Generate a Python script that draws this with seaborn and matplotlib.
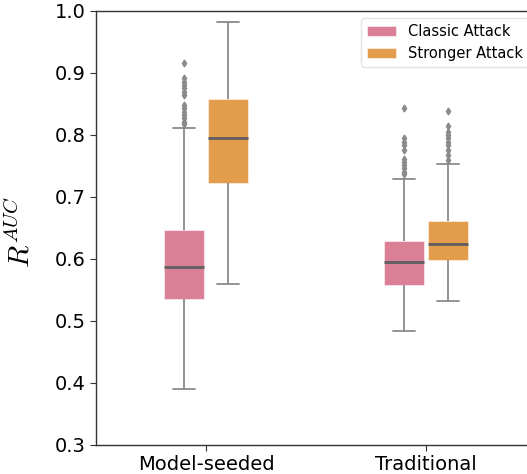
import numpy as np
import pandas as pd
import matplotlib
matplotlib.use("Agg")
import matplotlib.pyplot as plt
import seaborn as sns

# ---- data ----
categories = ["Model-seeded", "Traditional"]
attacks = ["Classic Attack", "Stronger Attack"]

# box statistics per (category, attack)
whisker_lo = {("Model-seeded", "Classic Attack"): 0.390, ("Model-seeded", "Stronger Attack"): 0.560,
              ("Traditional", "Classic Attack"): 0.484, ("Traditional", "Stronger Attack"): 0.532}
q1 = {("Model-seeded", "Classic Attack"): 0.536, ("Model-seeded", "Stronger Attack"): 0.723,
      ("Traditional", "Classic Attack"): 0.558, ("Traditional", "Stronger Attack"): 0.598}
median = {("Model-seeded", "Classic Attack"): 0.587, ("Model-seeded", "Stronger Attack"): 0.795,
          ("Traditional", "Classic Attack"): 0.595, ("Traditional", "Stronger Attack"): 0.624}
q3 = {("Model-seeded", "Classic Attack"): 0.647, ("Model-seeded", "Stronger Attack"): 0.858,
      ("Traditional", "Classic Attack"): 0.629, ("Traditional", "Stronger Attack"): 0.661}
whisker_hi = {("Model-seeded", "Classic Attack"): 0.812, ("Model-seeded", "Stronger Attack"): 0.982,
              ("Traditional", "Classic Attack"): 0.729, ("Traditional", "Stronger Attack"): 0.753}
fliers = {
    ("Model-seeded", "Classic Attack"): [0.916, 0.892, 0.886, 0.881, 0.875, 0.870, 0.865,
                                         0.848, 0.843, 0.837, 0.832, 0.827, 0.821, 0.817],
    ("Model-seeded", "Stronger Attack"): [],
    ("Traditional", "Classic Attack"): [0.844, 0.795, 0.789, 0.784, 0.775, 0.762, 0.757,
                                        0.752, 0.746, 0.741, 0.737],
    ("Traditional", "Stronger Attack"): [0.839, 0.815, 0.805, 0.800, 0.795, 0.789, 0.784,
                                         0.776, 0.768, 0.760],
}

colors = ["#DB7F97", "#E39B4C"]

# build a sample whose quartiles/whiskers/fliers reproduce the stats above
rows = []
for cat in categories:
    for att in attacks:
        key = (cat, att)
        f = fliers[key]
        m = len(f) + 1
        vals = ([whisker_lo[key]] + [q1[key]] * m + [median[key]] * m
                + [q3[key]] * m + [whisker_hi[key]] + list(f))
        for v in vals:
            rows.append({"Type": cat, "Attack": att, "R": v})
df = pd.DataFrame(rows)

# ---- plot ----
sns.set_style("white")
plt.rcParams["font.family"] = ["DejaVu Sans"]
plt.rcParams["mathtext.fontset"] = "cm"

fig = plt.figure(figsize=(5.27, 4.74), dpi=100)
ax = fig.add_axes([96 / 527, 29 / 474, 440 / 527, 434 / 474])

sns.boxplot(data=df, x="Type", y="R", hue="Attack", order=categories, hue_order=attacks,
            palette=colors, saturation=1, width=0.4, gap=0.1, whis=1.5, ax=ax,
            linecolor="#8a8a8a", linewidth=1.3,
            flierprops=dict(marker="d", markersize=3.5, markerfacecolor="#8a8a8a",
                            markeredgecolor="#8a8a8a"),
            medianprops=dict(color="#5f5f5f", linewidth=2),
            capwidths=0.1)

for p in ax.patches:
    p.set_edgecolor((1, 1, 1, 0.5))
    p.set_linewidth(0.8)

ax.set_ylim(0.3, 1.0)
ax.set_xlim(-0.5, 1.5)
ax.set_yticks([0.3, 0.4, 0.5, 0.6, 0.7, 0.8, 0.9, 1.0])
ax.set_yticklabels(["0.3", "0.4", "0.5", "0.6", "0.7", "0.8", "0.9", "1.0"])
ax.tick_params(axis="both", labelsize=14, length=4, color="#333333", labelcolor="black",
               direction="out", left=True, bottom=True)
ax.set_xlabel("")
ax.set_ylabel(r"$R^{AUC}$", fontsize=21, color="black")
ax.yaxis.set_label_coords(-0.138, 0.492)
for s in ["left", "bottom", "top"]:
    ax.spines[s].set_color("#333333")
    ax.spines[s].set_linewidth(1.0)
ax.spines["right"].set_visible(False)

leg = ax.legend(loc="upper right", fontsize=10.5, frameon=True, borderaxespad=0.5)
leg.get_frame().set_edgecolor("#dddddd")
for t in leg.get_texts():
    t.set_color("black")

fig.savefig("out.png", dpi=100)
